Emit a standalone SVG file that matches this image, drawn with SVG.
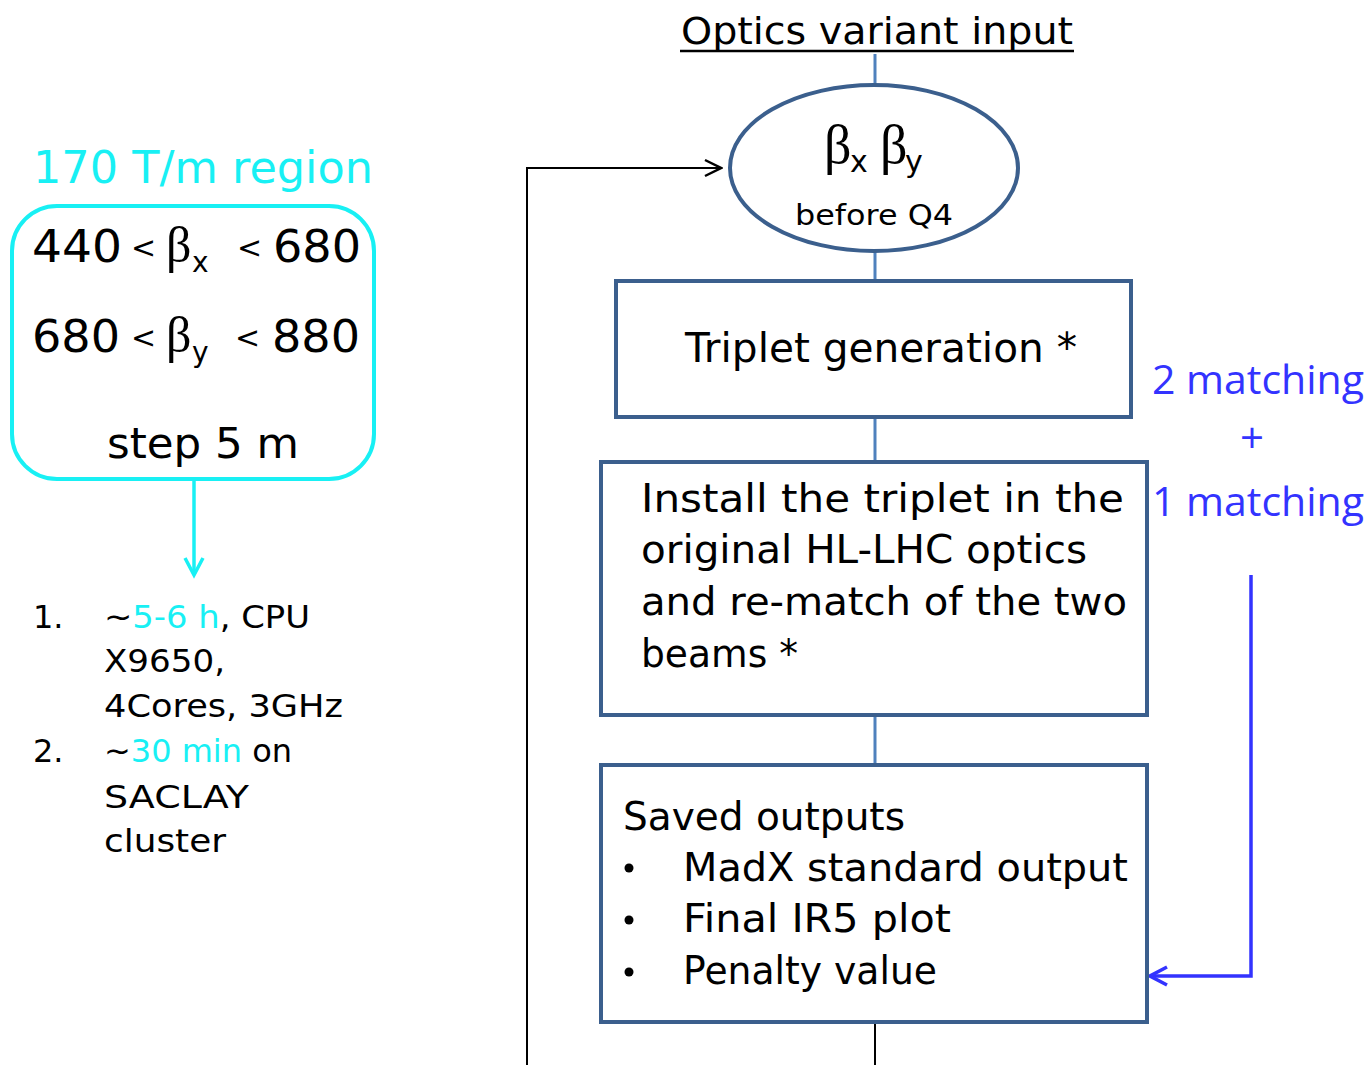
<svg xmlns="http://www.w3.org/2000/svg" width="1372" height="1065" viewBox="0 0 1372 1065">
<defs>
<style>
.t{font-family:"DejaVu Sans","Noto Sans",sans-serif;fill:#000}
.g{font-family:"Liberation Serif",serif}
.box{fill:#fff;stroke:#3b5f8d;stroke-width:4}
.lnk{stroke:#4f81bd;stroke-width:3;fill:none}
.cy{fill:#18f0f4}
.bl{font-family:"Open Sans","Liberation Sans",sans-serif;fill:#3333ff}
</style>
<marker id="ab" viewBox="0 0 20 20" refX="18" refY="10" markerWidth="20" markerHeight="20" markerUnits="userSpaceOnUse" orient="auto">
<path d="M2 2 L18 10 L2 18" fill="none" stroke="#000" stroke-width="2.5"/>
</marker>
<marker id="ac" viewBox="0 0 24 24" refX="20" refY="12" markerWidth="24" markerHeight="24" markerUnits="userSpaceOnUse" orient="auto">
<path d="M3 3 L20 12 L3 21" fill="none" stroke="#18f0f4" stroke-width="3.5"/>
</marker>
<marker id="abl" viewBox="0 0 24 24" refX="21" refY="12" markerWidth="24" markerHeight="24" markerUnits="userSpaceOnUse" orient="auto">
<path d="M4 3 L21 12 L4 21" fill="none" stroke="#3333ff" stroke-width="3.5"/>
</marker>
</defs>
<rect width="1372" height="1065" fill="#fff"/>

<g id="connectors">
<line class="lnk" x1="875" y1="54" x2="875" y2="86"/>
<line class="lnk" x1="875" y1="251" x2="875" y2="281"/>
<line class="lnk" x1="875" y1="417" x2="875" y2="462"/>
<line class="lnk" x1="875" y1="715" x2="875" y2="765"/>
<line x1="875" y1="1022" x2="875" y2="1065" stroke="#000" stroke-width="2"/>
<polyline points="527,1065 527,168 721,168" fill="none" stroke="#000" stroke-width="2" marker-end="url(#ab)"/>
<polyline points="1251,575 1251,976 1150,976" fill="none" stroke="#3333ff" stroke-width="3.5" marker-end="url(#abl)"/>
<line x1="194" y1="480" x2="194" y2="575" stroke="#18f0f4" stroke-width="3.5" marker-end="url(#ac)"/>
</g>

<g id="title">
<text class="t" x="877" y="44" font-size="38" text-anchor="middle" textLength="392" lengthAdjust="spacingAndGlyphs">Optics variant input</text>
<line x1="680" y1="51" x2="1074" y2="51" stroke="#000" stroke-width="2.5"/>
</g>

<g id="ellipse-node">
<ellipse class="box" cx="874" cy="168" rx="144" ry="83"/>
<text class="g" x="824" y="163" font-size="54">β</text>
<text class="t" x="850" y="172" font-size="30">x</text>
<text class="g" x="880" y="163" font-size="54">β</text>
<text class="t" x="905" y="172" font-size="30">y</text>
<text class="t" x="874" y="225" font-size="29" text-anchor="middle" textLength="158" lengthAdjust="spacingAndGlyphs">before Q4</text>
</g>

<g id="triplet-node">
<rect class="box" x="616" y="281" width="515" height="136"/>
<text class="t" x="685" y="362" font-size="40" textLength="392" lengthAdjust="spacingAndGlyphs">Triplet generation *</text>
</g>

<g id="install-node">
<rect class="box" x="601" y="462" width="546" height="253"/>
<text class="t" x="641" y="512" font-size="39" textLength="483" lengthAdjust="spacingAndGlyphs">Install the triplet in the</text>
<text class="t" x="641" y="563" font-size="39" textLength="446" lengthAdjust="spacingAndGlyphs">original HL-LHC optics</text>
<text class="t" x="641" y="615" font-size="39" textLength="486" lengthAdjust="spacingAndGlyphs">and re-match of the two</text>
<text class="t" x="641" y="667" font-size="39" textLength="157" lengthAdjust="spacingAndGlyphs">beams *</text>
</g>

<g id="outputs-node">
<rect class="box" x="601" y="765" width="546" height="257"/>
<text class="t" x="623" y="830" font-size="39" textLength="282" lengthAdjust="spacingAndGlyphs">Saved outputs</text>
<circle cx="629" cy="868" r="4.5" fill="#000"/>
<circle cx="629" cy="920" r="4.5" fill="#000"/>
<circle cx="629" cy="972" r="4.5" fill="#000"/>
<text class="t" x="683" y="881" font-size="39" textLength="445" lengthAdjust="spacingAndGlyphs">MadX standard output</text>
<text class="t" x="683" y="932" font-size="39" textLength="268" lengthAdjust="spacingAndGlyphs">Final IR5 plot</text>
<text class="t" x="683" y="984" font-size="39" textLength="254" lengthAdjust="spacingAndGlyphs">Penalty value</text>
</g>

<g id="matching-note">
<text class="bl" x="1152" y="394" font-size="40" textLength="212" lengthAdjust="spacingAndGlyphs">2 matching</text>
<text class="bl" x="1252" y="453" font-size="42" text-anchor="middle">+</text>
<text class="bl" x="1152" y="516" font-size="40" textLength="212" lengthAdjust="spacingAndGlyphs">1 matching</text>
</g>

<g id="region-node">
<text class="t cy" x="33" y="183" font-size="44" textLength="340" lengthAdjust="spacingAndGlyphs">170 T/m region</text>
<rect x="12" y="206" width="362" height="273" rx="45" fill="#fff" stroke="#18f0f4" stroke-width="4"/>
<text class="t" x="32" y="262" font-size="44" textLength="90" lengthAdjust="spacingAndGlyphs">440</text>
<text class="t" x="131" y="258" font-size="30">&lt;</text>
<text class="g" x="166" y="262" font-size="50">β</text>
<text class="t" x="192" y="272" font-size="28">x</text>
<text class="t" x="237" y="258" font-size="30">&lt;</text>
<text class="t" x="273" y="262" font-size="44" textLength="88" lengthAdjust="spacingAndGlyphs">680</text>
<text class="t" x="32" y="352" font-size="44" textLength="88" lengthAdjust="spacingAndGlyphs">680</text>
<text class="t" x="131" y="348" font-size="30">&lt;</text>
<text class="g" x="166" y="352" font-size="50">β</text>
<text class="t" x="192" y="362" font-size="28">y</text>
<text class="t" x="235" y="348" font-size="30">&lt;</text>
<text class="t" x="272" y="352" font-size="44" textLength="88" lengthAdjust="spacingAndGlyphs">880</text>
<text class="t" x="107" y="458" font-size="42" textLength="192" lengthAdjust="spacingAndGlyphs">step 5 m</text>
</g>

<g id="timing-list">
<text class="t" x="33" y="628" font-size="32">1.</text>
<text class="t" x="104" y="628" font-size="32" textLength="206" lengthAdjust="spacingAndGlyphs">~<tspan class="cy">5-6 h</tspan>, CPU</text>
<text class="t" x="104" y="672" font-size="32" textLength="121" lengthAdjust="spacingAndGlyphs">X9650,</text>
<text class="t" x="104" y="717" font-size="32" textLength="239" lengthAdjust="spacingAndGlyphs">4Cores, 3GHz</text>
<text class="t" x="33" y="762" font-size="32">2.</text>
<text class="t" x="104" y="762" font-size="32" textLength="188" lengthAdjust="spacingAndGlyphs">~<tspan class="cy">30 min</tspan> on</text>
<text class="t" x="104" y="808" font-size="32" textLength="145" lengthAdjust="spacingAndGlyphs">SACLAY</text>
<text class="t" x="104" y="852" font-size="32" textLength="122" lengthAdjust="spacingAndGlyphs">cluster</text>
</g>
</svg>
